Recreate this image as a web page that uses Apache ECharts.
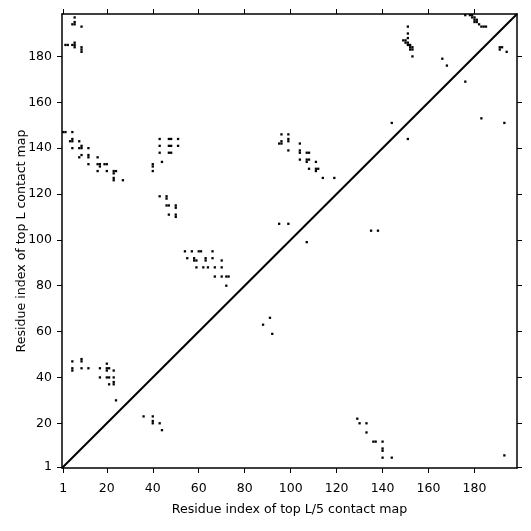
<!DOCTYPE html>
<html>
<head>
<meta charset="utf-8">
<script src="https://cdn.jsdelivr.net/npm/echarts@6/dist/echarts.min.js"></script>
<style>
  html, body { margin: 0; padding: 0; background: #fff; }
  #chart { width: 531px; height: 531px; }
</style>
</head>
<body>
<div id="chart"></div>
<script>
// residue range of the map (cells centred on integer indices)
const axisMin = 0.5;
const axisMax = 198.5;
const tickValues = [1, 20, 40, 60, 80, 100, 120, 140, 160, 180];

// contacts above the diagonal
const upperContacts = [
  [6, 197], [6, 195], [5, 194], [6, 194], [9, 193],
  [2, 185], [3, 185], [5, 185], [6, 186], [6, 185], [6, 184], [9, 184], [9, 183], [9, 182],
  [1, 147], [2, 147], [5, 147], [4, 143], [5, 143], [5, 144], [8, 143],
  [5, 140], [8, 140], [9, 140], [9, 141], [12, 140],
  [8, 136], [9, 137], [12, 136], [12, 137], [16, 136],
  [12, 133], [16, 133], [17, 132], [17, 133], [19, 133], [20, 133],
  [16, 130], [20, 130], [23, 129], [23, 130], [24, 130], [23, 126], [23, 127], [27, 126],
  [43, 144], [47, 144], [48, 144], [51, 144], [43, 141], [47, 141], [48, 141], [51, 141],
  [43, 138], [47, 138], [48, 138], [44, 134], [40, 132], [40, 133], [40, 130],
  [43, 119], [46, 118], [46, 119], [46, 115], [47, 115], [50, 114], [50, 115],
  [47, 111], [50, 110], [50, 111],
  [54, 95], [57, 95], [60, 95], [61, 95], [66, 95],
  [55, 92], [58, 92], [63, 92], [66, 92], [58, 91], [59, 91], [63, 91], [70, 91],
  [59, 88], [62, 88], [64, 88], [67, 88], [70, 88],
  [67, 84], [70, 84], [72, 84], [73, 84], [72, 80],
  [96, 146], [99, 146], [95, 142], [96, 142], [96, 143], [99, 143], [99, 144], [104, 142],
  [99, 139], [104, 138], [104, 139], [107, 138], [108, 138],
  [104, 135], [107, 134], [107, 135], [108, 135], [111, 134],
  [108, 131], [111, 130], [111, 131], [112, 131], [114, 127], [119, 127],
  [95, 107], [99, 107], [144, 151],
  [151, 193], [151, 190], [151, 188], [149, 187], [150, 187], [150, 186], [151, 186],
  [151, 185], [152, 185], [152, 184], [153, 184], [152, 183], [153, 183], [153, 180],
  [166, 179], [168, 176],
  [176, 198], [178, 198], [179, 198], [179, 197], [180, 197], [180, 196], [181, 196],
  [180, 195], [181, 195], [182, 194], [183, 193], [184, 193], [185, 193]
];

// contacts below the diagonal
const lowerContacts = [
  [5, 47], [9, 47], [9, 48], [5, 43], [5, 44], [9, 44], [12, 44], [17, 44],
  [20, 46], [20, 44], [21, 44], [20, 43], [23, 43],
  [17, 40], [20, 40], [21, 40], [23, 40], [21, 37], [23, 37], [23, 38], [24, 30],
  [36, 23], [40, 23], [40, 20], [40, 21], [43, 20], [44, 17],
  [88, 63], [91, 66], [92, 59], [107, 99], [135, 104], [138, 104],
  [129, 22], [130, 20], [133, 20], [133, 16], [136, 12], [137, 12], [140, 12],
  [140, 8], [140, 9], [140, 5], [144, 5],
  [151, 144], [176, 169], [183, 153], [193, 151],
  [191, 184], [192, 184], [191, 183], [194, 182], [193, 6]
];

const chart = echarts.init(document.getElementById('chart'));
const font = 'DejaVu Sans';

// one filled square per contact cell
function renderCell(params, api) {
  const x = api.value(0), y = api.value(1);
  const p = api.coord([x - 0.5, y + 0.5]);
  const s = api.size([1, 1]);
  return {
    type: 'rect',
    shape: { x: p[0], y: p[1], width: s[0], height: s[1] },
    style: { fill: '#000' }
  };
}

function makeAxis(pos, showLabel, name) {
  return {
    type: 'value',
    position: pos,
    min: axisMin,
    max: axisMax,
    name: name,
    nameLocation: 'middle',
    nameGap: pos === 'bottom' ? 35 : 34,
    nameMoveOverlap: false,
    nameTextStyle: { fontFamily: font, fontSize: 12.6, color: '#000' },
    axisLine: { show: true, onZero: false, lineStyle: { color: '#000', width: 1.5 } },
    axisTick: { show: true, length: 5, customValues: tickValues, lineStyle: { color: '#000', width: 1 } },
    axisLabel: {
      show: showLabel, customValues: tickValues, margin: pos === 'bottom' ? 14 : 10,
      fontFamily: font, fontSize: 12.5, color: '#000'
    },
    splitLine: { show: false }
  };
}

const option = {
  animation: false,
  backgroundColor: '#fff',
  grid: { left: 62, top: 14, right: 14, bottom: 63, outerBoundsMode: 'none' },
  xAxis: [
    makeAxis('bottom', true, 'Residue index of top L/5 contact map'),
    makeAxis('top', false, '')
  ],
  yAxis: [
    makeAxis('left', true, 'Residue index of top L contact map'),
    makeAxis('right', false, '')
  ],
  series: [
    {
      type: 'line',
      data: [[axisMin, axisMin], [axisMax, axisMax]],
      symbol: 'none',
      lineStyle: { color: '#000', width: 2 },
      silent: true
    },
    { type: 'custom', renderItem: renderCell, data: upperContacts },
    { type: 'custom', renderItem: renderCell, data: lowerContacts }
  ]
};
chart.setOption(option);
</script>
</body>
</html>
